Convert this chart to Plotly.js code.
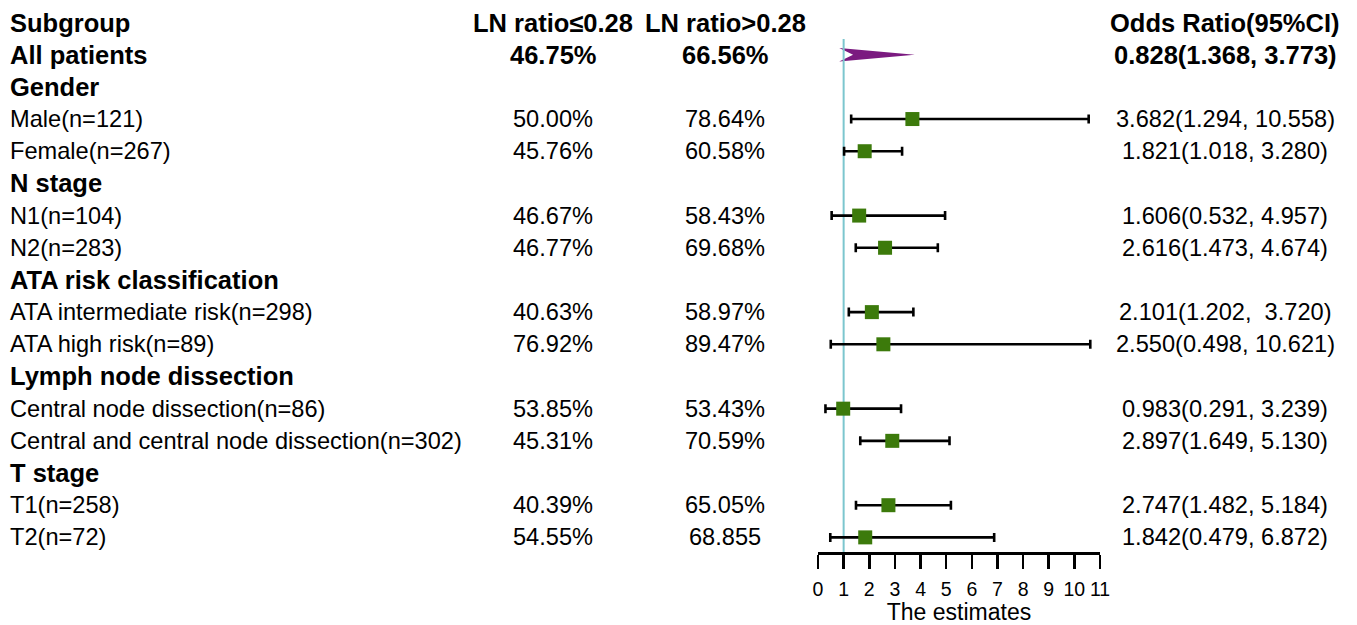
<!DOCTYPE html>
<html>
<head>
<meta charset="utf-8">
<script src="https://cdn.plot.ly/plotly-3.0.1.min.js"></script>
<style>html,body{margin:0;padding:0;background:#fff;}#chart{width:1357px;height:625px;}</style>
</head>
<body>
<div id="chart"></div>
<script>
// ---- data ----
const subgroups = ["Subgroup","All patients","Gender","Male(n=121)","Female(n=267)","N stage","N1(n=104)","N2(n=283)",
  "ATA risk classification","ATA intermediate risk(n=298)","ATA high risk(n=89)","Lymph node dissection",
  "Central node dissection(n=86)","Central and central node dissection(n=302)","T stage","T1(n=258)","T2(n=72)"];
const boldRows = [0,1,2,5,8,11,14];
const lowRatio = ["LN ratio\u22640.28","46.75%","","50.00%","45.76%","","46.67%","46.77%","","40.63%","76.92%","","53.85%","45.31%","","40.39%","54.55%"];
const highRatio = ["LN ratio>0.28","66.56%","","78.64%","60.58%","","58.43%","69.68%","","58.97%","89.47%","","53.43%","70.59%","","65.05%","68.855"];
const orText = ["Odds Ratio(95%CI)","0.828(1.368, 3.773)","","3.682(1.294, 10.558)","1.821(1.018, 3.280)","","1.606(0.532, 4.957)","2.616(1.473, 4.674)","",
  "2.101(1.202, \u00a03.720)","2.550(0.498, 10.621)","","0.983(0.291, 3.239)","2.897(1.649, 5.130)","","2.747(1.482, 5.184)","1.842(0.479, 6.872)"];

// forest values
const estRows = [3,4,6,7,9,10,12,13,15,16];
const estOR   = [3.682,1.821,1.606,2.616,2.101,2.550,0.983,2.897,2.747,1.842];
const estLo   = [1.294,1.018,0.532,1.473,1.202,0.498,0.291,1.649,1.482,0.479];
const estHi   = [10.558,3.280,4.957,4.674,3.720,10.621,3.239,5.130,5.184,6.872];
const allRow = 1, allOR = 0.828, allLo = 1.368, allHi = 3.773;
const refValue = 1;
const tickVals = [0,1,2,3,4,5,6,7,8,9,10,11];

// ---- layout helpers ----
const W = 1357, H = 625;
const FONT = "Liberation Sans, Arial, Helvetica, sans-serif";
const row0 = 22.5, rowStep = 32.18, plotBottom = 552;
const yTop = -row0/rowStep, yBot = (plotBottom-row0)/rowStep;
const xLeft = 818, xRight = 1100;

const annotations = [];
function addCol(arr, xpx, anchor){
  arr.forEach((t,i)=>{
    if(!t) return;
    const b = boldRows.includes(i);
    annotations.push({xref:'paper', yref:'y', x:xpx/W, y:i, text:t, showarrow:false,
      xanchor:anchor, yanchor:'middle',
      font:{family:FONT, size: b?25.5:23.6, color:'#000', weight: b?'bold':'normal'}});
  });
}
addCol(subgroups, 8, 'left');
addCol(lowRatio, 553, 'center');
addCol(highRatio, 725, 'center');
addCol(orText, 1225, 'center');

const traces = [
  { // summary arrow
    x:[allOR, allHi, allOR, allLo, allOR],
    y:[allRow-0.21, allRow, allRow+0.21, allRow, allRow-0.21],
    mode:'lines', fill:'toself', fillcolor:'#7B1A80', line:{width:0, color:'#7B1A80'},
    hoverinfo:'skip', showlegend:false
  },
  { // reference line
    x:[refValue, refValue], y:[0.51, yBot],
    mode:'lines', line:{color:'#7CC6CE', width:2}, hoverinfo:'skip', showlegend:false
  },
  { // estimates
    x: estOR, y: estRows, mode:'markers', type:'scatter',
    marker:{symbol:'square', size:14, color:'#3C7A0B'},
    error_x:{type:'data', symmetric:false,
      array: estHi.map((h,i)=>h-estOR[i]),
      arrayminus: estOR.map((o,i)=>o-estLo[i]),
      color:'#000', thickness:2.6, width:4.5},
    showlegend:false, cliponaxis:false
  }
];

const layout = {
  width:W, height:H,
  margin:{l:0, r:0, t:0, b:H-plotBottom},
  paper_bgcolor:'#fff', plot_bgcolor:'rgba(0,0,0,0)',
  showlegend:false,
  xaxis:{domain:[xLeft/W, xRight/W], range:[0,11], tickvals:tickVals, ticktext:tickVals.map(String),
    showgrid:false, zeroline:false, showline:true, linecolor:'#000', linewidth:2.5,
    ticks:'outside', ticklen:14, tickwidth:2.5, tickcolor:'#000',
    ticklabelstandoff:4,
    tickfont:{family:FONT, size:19.5, color:'#000'},
    title:{text:'The estimates', font:{family:FONT, size:23, color:'#000'}, standoff:3}},
  yaxis:{range:[yBot, yTop], visible:false, showgrid:false, zeroline:false},
  annotations: annotations
};

Plotly.newPlot('chart', traces, layout, {displayModeBar:false, staticPlot:true});
</script>
</body>
</html>
